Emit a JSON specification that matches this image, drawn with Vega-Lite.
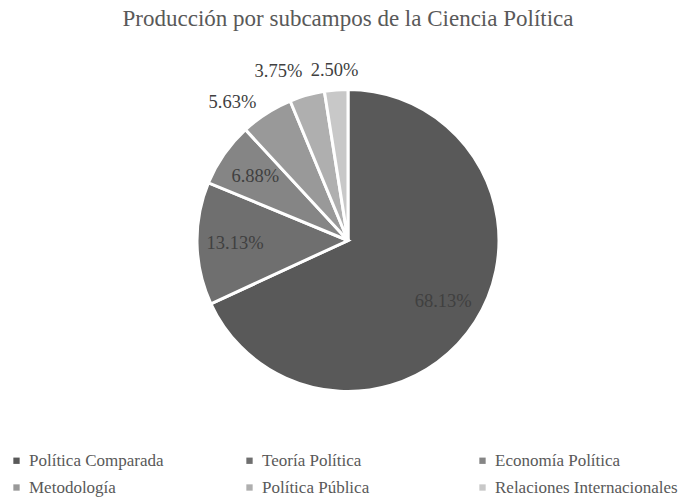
{
  "$schema": "https://vega.github.io/schema/vega-lite/v6.json",
  "width": 696,
  "height": 381,
  "autosize": "none",
  "padding": {"top": 50, "left": 0, "right": 0, "bottom": 72},
  "background": "white",
  "config": {
    "view": {"stroke": null},
    "font": "Liberation Serif"
  },
  "title": {
    "text": "Producción por subcampos de la Ciencia Política",
    "font": "Liberation Serif",
    "fontSize": 23,
    "fontWeight": "normal",
    "color": "#595959",
    "anchor": "middle",
    "offset": 19
  },
  "data": {
    "values": [
      {"subcampo": "Política Comparada", "valor": 0.6813},
      {"subcampo": "Teoría Política", "valor": 0.1313},
      {"subcampo": "Economía Política", "valor": 0.0688},
      {"subcampo": "Metodología", "valor": 0.0563},
      {"subcampo": "Política Pública", "valor": 0.0375},
      {"subcampo": "Relaciones Internacionales", "valor": 0.0250}
    ]
  },
  "encoding": {
    "theta": {"field": "valor", "type": "quantitative", "stack": true},
    "order": {"field": "valor", "type": "quantitative", "sort": "descending"},
    "color": {
      "field": "subcampo",
      "type": "nominal",
      "sort": ["Política Comparada", "Teoría Política", "Economía Política", "Metodología", "Política Pública", "Relaciones Internacionales"],
      "scale": {
        "domain": ["Política Comparada", "Teoría Política", "Economía Política", "Metodología", "Política Pública", "Relaciones Internacionales"],
        "range": ["#595959", "#6f6f6f", "#858585", "#999999", "#afafaf", "#c8c8c8"]
      },
      "legend": {
        "title": null,
        "orient": "none",
        "legendX": 8,
        "legendY": 402,
        "direction": "horizontal",
        "columns": 3,
        "columnPadding": 29,
        "rowPadding": 9,
        "symbolType": "square",
        "symbolSize": 40,
        "symbolStrokeWidth": 0,
        "labelFont": "Liberation Serif",
        "labelFontSize": 17,
        "labelColor": "#595959",
        "labelLimit": 300,
        "gridAlign": "all"
      }
    }
  },
  "layer": [
    {
      "mark": {"type": "arc", "outerRadius": 151, "stroke": "white", "strokeWidth": 3}
    },
    {
      "mark": {"type": "text", "radius": 113, "fontSize": 18.5},
      "encoding": {
        "text": {"condition": {"test": "datum.subcampo === 'Política Comparada' || datum.subcampo === 'Teoría Política' || datum.subcampo === 'Economía Política'", "field": "valor", "format": ".2%"}, "value": ""},
        "color": {"value": "#404040"}
      }
    },
    {
      "mark": {"type": "text", "radius": 168, "dx": -25, "dy": 3, "fontSize": 18.5},
      "encoding": {
        "text": {"condition": {"test": "datum.subcampo === 'Metodología'", "field": "valor", "format": ".2%"}, "value": ""},
        "color": {"value": "#404040"}
      }
    },
    {
      "mark": {"type": "text", "radius": 168, "dx": -24, "dy": -8, "fontSize": 18.5},
      "encoding": {
        "text": {"condition": {"test": "datum.subcampo === 'Política Pública'", "field": "valor", "format": ".2%"}, "value": ""},
        "color": {"value": "#404040"}
      }
    },
    {
      "mark": {"type": "text", "radius": 171, "fontSize": 18.5},
      "encoding": {
        "text": {"condition": {"test": "datum.subcampo === 'Relaciones Internacionales'", "field": "valor", "format": ".2%"}, "value": ""},
        "color": {"value": "#404040"}
      }
    }
  ]
}
